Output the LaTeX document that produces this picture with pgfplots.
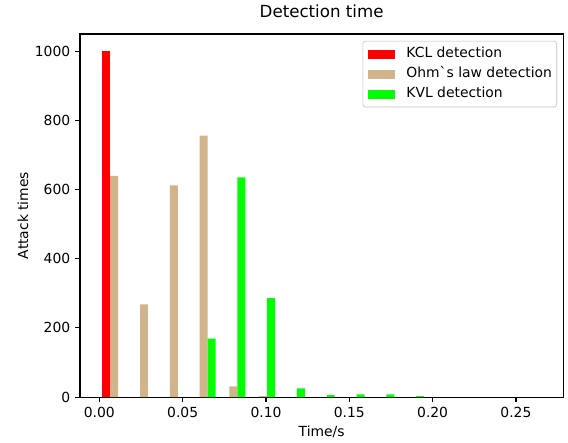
\documentclass[border=0pt]{standalone}
\usepackage{fontspec}
\setmainfont{DejaVu Sans}
\usepackage{pgfplots}
\pgfplotsset{compat=1.18}
\definecolor{kclred}{HTML}{FF0000}
\definecolor{ohmtan}{HTML}{D2B48C}
\definecolor{kvlgreen}{HTML}{00FF00}
\pgfplotsset{
  histbar/.style={ybar, bar width=0.004768, bar shift=0pt, draw=none, fill=#1,
    legend image code/.code={\fill[#1, sharp corners] (0pt,-3.2pt) rectangle (20pt,3.2pt); \path (28pt,0pt);}},
}
\begin{document}
\begin{tikzpicture}
\begin{axis}[
  name=ax,
  scale only axis,
  width=348pt, height=261.5pt,
  xmin=-0.0116, xmax=0.2784,
  ymin=0, ymax=1050,
  xtick={0,0.05,0.1,0.15,0.2,0.25},
  ytick={0,200,400,600,800,1000},
  tick pos=left,
  tick align=outside,
  major tick length=3.5pt,
  tick style={black, line width=0.8pt},
  axis line style={black, line width=0.8pt},
  ticklabel style={font=\fontsize{10}{12}\selectfont},
  /pgf/number format/assume math mode=true,
  xticklabel style={/pgf/number format/.cd, fixed, fixed zerofill, precision=2},
  yticklabel style={/pgf/number format/.cd, 1000 sep={}},
  title={Detection time},
  title style={font=\fontsize{12}{14}\selectfont, at={(axis description cs:0.5,1)}, anchor=base, yshift=6pt},
  xlabel={Time/s},
  ylabel={Attack times},
  label style={font=\fontsize{10}{12}\selectfont},
  xlabel style={at={(axis description cs:0.5,0)}, anchor=center, yshift=-25.2pt},
  ylabel style={at={(axis description cs:0,0.5)}, anchor=center, yshift=41pt},
  legend style={at={(1,1)}, anchor=north east, xshift=-4.5pt, yshift=-5pt,
    draw=black!25, rounded corners=2pt, fill=white,
    font=\fontsize{10}{12}\selectfont,
    inner xsep=3.4pt, inner ysep=4.3pt, row sep=4.4pt, column sep=0pt,
    nodes={inner xsep=0pt, inner ysep=0pt, text height=7.5pt, text depth=2.5pt}},
  legend cell align=left,
]
\addplot[histbar=kclred] coordinates {
  (0.00417,1000)
};
\addlegendentry{KCL detection}
\addplot[histbar=ohmtan] coordinates {
  (0.00894,640) (0.02682,268) (0.04470,612) (0.06258,756) (0.08046,31) (0.09834,3)
};
\addlegendentry{Ohm\textasciigrave s law detection}
\addplot[histbar=kvlgreen] coordinates {
  (0.06735,169) (0.08523,635) (0.10311,286) (0.12099,25) (0.13887,6)
  (0.15675,8) (0.17463,8) (0.19251,3)
};
\addlegendentry{KVL detection}
\end{axis}
\path[use as bounding box] ([shift={(-57.6pt,-29pt)}]ax.south west) rectangle ([shift={(3.4pt,24.1pt)}]ax.north east);
\end{tikzpicture}
\end{document}
